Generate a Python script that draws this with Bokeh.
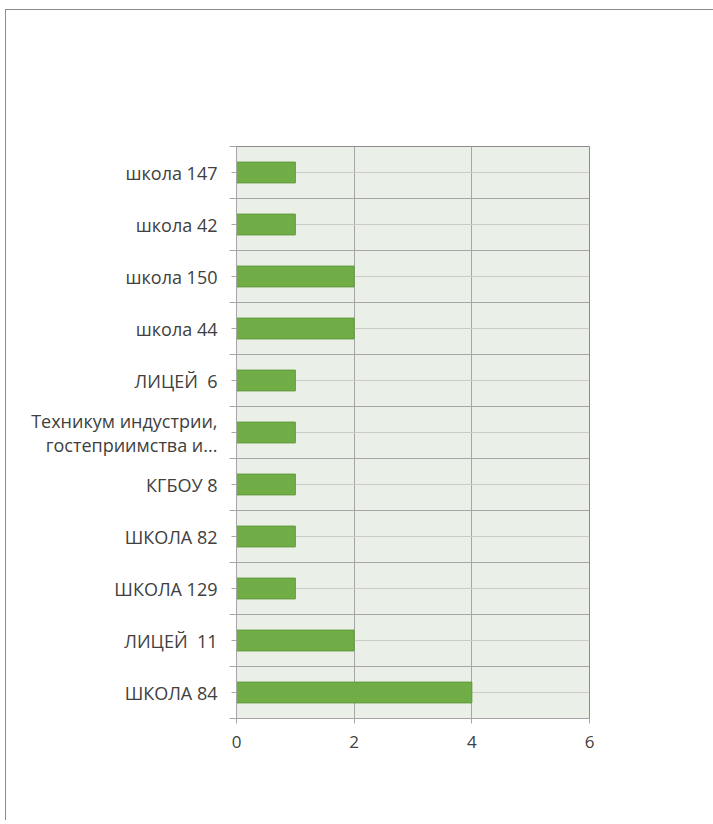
from bokeh.plotting import figure
from bokeh.models import Range1d, FixedTicker, ColumnDataSource
from bokeh.embed import file_html
from bokeh.resources import INLINE

categories = ["школа 147", "школа 42", "школа 150", "школа 44", "ЛИЦЕЙ\u00a0 6",
              "Техникум индустрии,\nгостеприимства и...", "КГБОУ 8", "ШКОЛА 82",
              "ШКОЛА 129", "ЛИЦЕЙ\u00a0 11", "ШКОЛА 84"]
values = [1, 1, 2, 2, 1, 1, 1, 1, 1, 2, 4]
x_ticks = [0, 2, 4, 6]

n = len(categories)
ypos = [n - 0.5 - i for i in range(n)]

p = figure(width=707, height=810, output_backend="svg", toolbar_location=None,
           x_range=Range1d(0, 6), y_range=Range1d(0, n),
           frame_width=353, frame_height=572,
           min_border_left=230, min_border_right=124,
           min_border_top=136, min_border_bottom=102)
p.styles = {"margin-left": "5px", "margin-top": "9px",
            "border-left": "1.5px solid #8C8C8C", "border-top": "1.5px solid #8C8C8C"}

p.background_fill_color = "#EAEFE8"
p.border_fill_color = "white"
p.outline_line_color = "#8C8C8C"
p.outline_line_width = 1

src = ColumnDataSource(dict(y=ypos, v=values))
p.hbar(y="y", right="v", left=0, height=0.4, source=src,
       fill_color="#70AD47", line_color="#5E9A3A", line_width=1)

p.xaxis.ticker = FixedTicker(ticks=x_ticks)
p.xgrid.ticker = FixedTicker(ticks=x_ticks)
p.xgrid.grid_line_color = "#A6A6A6"
p.xaxis.axis_line_color = "#A6A6A6"
p.xaxis.major_tick_line_color = "#A6A6A6"
p.xaxis.major_tick_out = 5
p.xaxis.major_tick_in = 0
p.xaxis.minor_tick_line_color = None
p.xaxis.major_label_text_font = "Open Sans"
p.xaxis.major_label_text_font_size = "17px"
p.xaxis.major_label_text_color = "#404040"
p.xaxis.major_label_standoff = 12

boundaries = list(range(0, n + 1))
p.yaxis.ticker = FixedTicker(ticks=ypos, minor_ticks=boundaries)
p.ygrid.ticker = FixedTicker(ticks=ypos, minor_ticks=boundaries)
p.yaxis.major_label_overrides = {y: c for y, c in zip(ypos, categories)}
p.ygrid.grid_line_color = "#C9CCC7"
p.ygrid.minor_grid_line_color = "#A6A6A6"
p.yaxis.axis_line_color = "#A6A6A6"
p.yaxis.major_tick_line_color = "#A6A6A6"
p.yaxis.minor_tick_line_color = "#A6A6A6"
p.yaxis.major_tick_out = 5
p.yaxis.major_tick_in = 0
p.yaxis.minor_tick_out = 7
p.yaxis.minor_tick_in = 0
p.yaxis.major_label_text_font = "Open Sans"
p.yaxis.major_label_text_font_size = "18px"
p.yaxis.major_label_text_line_height = 1.0
p.yaxis.major_label_text_color = "#404040"
p.yaxis.major_label_standoff = 12

open("out.html", "w").write(file_html(p, INLINE))
